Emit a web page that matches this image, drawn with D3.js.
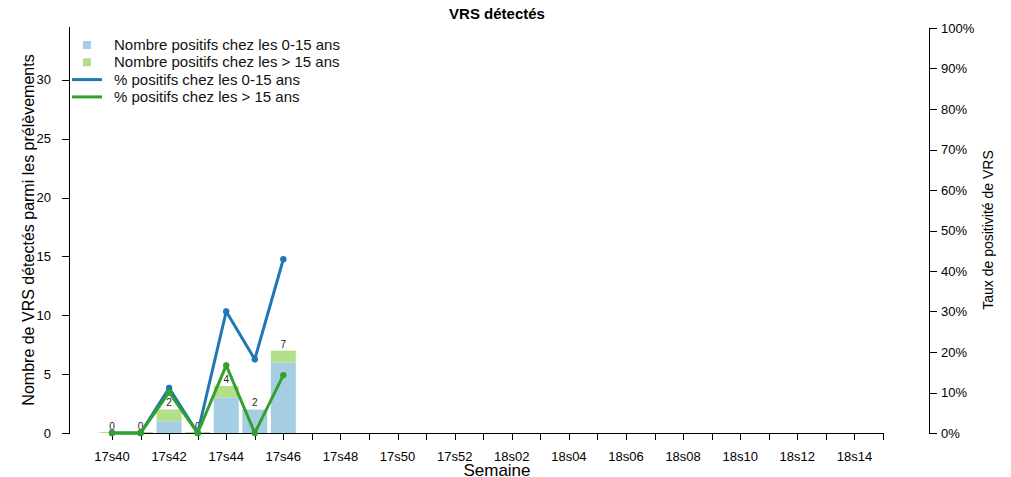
<!DOCTYPE html>
<html>
<head>
<meta charset="utf-8">
<script src="https://cdn.jsdelivr.net/npm/d3@7"></script>
<style>
  body { margin: 0; background: #fff; }
  svg { font-family: "Liberation Sans", Arial, sans-serif; }
</style>
</head>
<body>
<svg id="chart" width="1011" height="477"></svg>
<script>
// weeks on the x axis
var weeks = ['17s40', '17s41', '17s42', '17s43', '17s44', '17s45', '17s46', '17s47', '17s48',
  '17s49', '17s50', '17s51', '17s52', '18s01', '18s02', '18s03', '18s04', '18s05', '18s06',
  '18s07', '18s08', '18s09', '18s10', '18s11', '18s12', '18s13', '18s14', '18s15'];

// counts (only first weeks reported)
var dataWeeks = ['17s40', '17s41', '17s42', '17s43', '17s44', '17s45', '17s46'];
var nbEnfants = [0, 0, 1, 0, 3, 2, 6];
var nbAdultes = [0, 0, 1, 0, 1, 0, 1];
var pctEnfants = [0, 0, 11.1, 0, 30, 18.2, 42.9];
var pctAdultes = [0, 0, 10, 0, 16.7, 0, 14.3];

var leftTicks = [0, 5, 10, 15, 20, 25, 30];
var rightTicks = [0, 10, 20, 30, 40, 50, 60, 70, 80, 90, 100];

var colors = {
  barEnf: '#a6cee3',
  barAdu: '#b2df8a',
  lineEnf: '#1f78b4',
  lineAdu: '#33a02c'
};

var svg = d3.select('#chart');

var x = d3.scalePoint().domain(weeks).range([112, 883]);
var yL = d3.scaleLinear().domain([0, 34.5]).range([433, 27]);
var yR = d3.scaleLinear().domain([0, 100]).range([433, 28]);
var barW = x.step() * 0.875;

var rows = dataWeeks.map(function (w, i) {
  return {
    week: w,
    enf: nbEnfants[i],
    adu: nbAdultes[i],
    total: nbEnfants[i] + nbAdultes[i],
    pEnf: pctEnfants[i],
    pAdu: pctAdultes[i]
  };
});

// title
svg.append('text')
  .attr('x', 497).attr('y', 19)
  .attr('text-anchor', 'middle')
  .style('font-weight', 'bold').style('font-size', '15px')
  .text('VRS détectés');

// bars
var bars = svg.append('g');
bars.selectAll('rect.enf').data(rows).enter().append('rect')
  .attr('class', 'enf')
  .attr('x', function (d) { return x(d.week) - barW / 2; })
  .attr('y', function (d) { return yL(d.enf); })
  .attr('width', barW)
  .attr('height', function (d) { return yL(0) - yL(d.enf); })
  .attr('fill', colors.barEnf);

bars.selectAll('rect.adu').data(rows).enter().append('rect')
  .attr('class', 'adu')
  .attr('x', function (d) { return x(d.week) - barW / 2; })
  .attr('y', function (d) { return d.total === 0 ? yL(0) - 1 : yL(d.total); })
  .attr('width', barW)
  .attr('height', function (d) { return d.total === 0 ? 1 : yL(d.enf) - yL(d.total); })
  .attr('fill', colors.barAdu);

bars.selectAll('text').data(rows).enter().append('text')
  .attr('x', function (d) { return x(d.week); })
  .attr('y', function (d) { return yL(d.total) - 3; })
  .attr('text-anchor', 'middle')
  .style('font-size', '10px')
  .attr('fill', '#222')
  .text(function (d) { return d.total; });

// x axis
var xAxis = svg.append('g');
xAxis.append('line')
  .attr('x1', x(weeks[0])).attr('x2', x(weeks[weeks.length - 1]))
  .attr('y1', 433.5).attr('y2', 433.5)
  .attr('stroke', '#000');
xAxis.selectAll('line.tick').data(weeks).enter().append('line')
  .attr('class', 'tick')
  .attr('x1', function (d) { return Math.round(x(d)) + 0.5; })
  .attr('x2', function (d) { return Math.round(x(d)) + 0.5; })
  .attr('y1', 433).attr('y2', 440)
  .attr('stroke', '#000');
xAxis.selectAll('text').data(weeks.filter(function (d, i) { return i % 2 === 0; }))
  .enter().append('text')
  .attr('x', function (d) { return x(d); })
  .attr('y', 461)
  .attr('text-anchor', 'middle')
  .style('font-size', '13px')
  .text(function (d) { return d; });
svg.append('text')
  .attr('x', 497).attr('y', 476)
  .attr('text-anchor', 'middle')
  .style('font-size', '17px')
  .text('Semaine');

// left axis
var left = svg.append('g');
left.append('line')
  .attr('x1', 69.5).attr('x2', 69.5)
  .attr('y1', yL(0)).attr('y2', 27)
  .attr('stroke', '#000');
left.selectAll('line.tick').data(leftTicks).enter().append('line')
  .attr('x1', 62).attr('x2', 70)
  .attr('y1', function (d) { return Math.round(yL(d)) + 0.5; })
  .attr('y2', function (d) { return Math.round(yL(d)) + 0.5; })
  .attr('stroke', '#000');
left.selectAll('text').data(leftTicks).enter().append('text')
  .attr('x', 51)
  .attr('y', function (d) { return yL(d) + 4.5; })
  .attr('text-anchor', 'end')
  .style('font-size', '13px')
  .text(function (d) { return d; });
svg.append('text')
  .attr('transform', 'translate(34,230) rotate(-90)')
  .attr('text-anchor', 'middle')
  .style('font-size', '16px')
  .text('Nombre de VRS détectés parmi les prélèvements');

// right axis
var right = svg.append('g');
right.append('line')
  .attr('x1', 929.5).attr('x2', 929.5)
  .attr('y1', yR(0)).attr('y2', yR(100))
  .attr('stroke', '#000');
right.selectAll('line.tick').data(rightTicks).enter().append('line')
  .attr('x1', 929).attr('x2', 937)
  .attr('y1', function (d) { return Math.round(yR(d)) + 0.5; })
  .attr('y2', function (d) { return Math.round(yR(d)) + 0.5; })
  .attr('stroke', '#000');
right.selectAll('text').data(rightTicks).enter().append('text')
  .attr('x', 941)
  .attr('y', function (d) { return yR(d) + 4.5; })
  .style('font-size', '13px')
  .text(function (d) { return d + '%'; });
svg.append('text')
  .attr('transform', 'translate(993,230) rotate(-90)')
  .attr('text-anchor', 'middle')
  .style('font-size', '14px')
  .text('Taux de positivité de VRS');

// lines
function drawLine(key, color) {
  var line = d3.line()
    .x(function (d) { return x(d.week); })
    .y(function (d) { return yR(d[key]); });
  var g = svg.append('g');
  g.append('path').datum(rows)
    .attr('d', line)
    .attr('fill', 'none')
    .attr('stroke', color)
    .attr('stroke-width', 3);
  g.selectAll('circle').data(rows).enter().append('circle')
    .attr('cx', function (d) { return x(d.week); })
    .attr('cy', function (d) { return yR(d[key]); })
    .attr('r', 3.2)
    .attr('fill', color);
}
drawLine('pEnf', colors.lineEnf);
drawLine('pAdu', colors.lineAdu);

// legend
var legendItems = [
  { label: 'Nombre positifs chez les 0-15 ans', type: 'box', color: colors.barEnf },
  { label: 'Nombre positifs chez les > 15 ans', type: 'box', color: colors.barAdu },
  { label: '% positifs chez les 0-15 ans', type: 'line', color: colors.lineEnf },
  { label: '% positifs chez les > 15 ans', type: 'line', color: colors.lineAdu }
];
var legend = svg.append('g').attr('transform', 'translate(0,45)');
var li = legend.selectAll('g').data(legendItems).enter().append('g')
  .attr('transform', function (d, i) { return 'translate(0,' + (i * 17.3) + ')'; });
li.filter(function (d) { return d.type === 'box'; }).append('rect')
  .attr('x', 83).attr('y', -4).attr('width', 8).attr('height', 8)
  .attr('fill', function (d) { return d.color; });
li.filter(function (d) { return d.type === 'line'; }).append('line')
  .attr('x1', 72).attr('x2', 102).attr('y1', 0).attr('y2', 0)
  .attr('stroke', function (d) { return d.color; })
  .attr('stroke-width', 3);
li.append('text')
  .attr('x', 114).attr('y', 5)
  .style('font-size', '15px')
  .attr('fill', '#111')
  .text(function (d) { return d.label; });
</script>
</body>
</html>
